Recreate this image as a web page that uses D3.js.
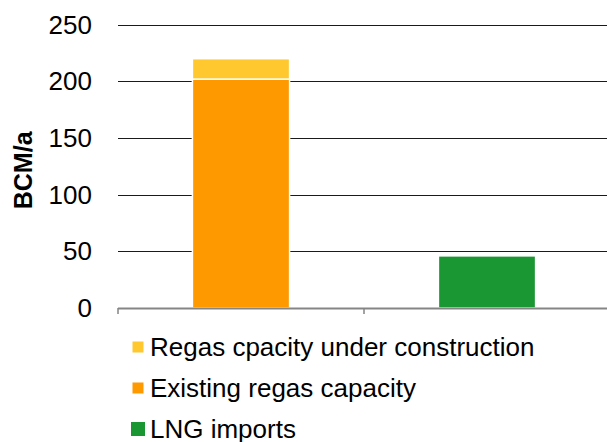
<!DOCTYPE html>
<html lang="en">
<head>
  <meta charset="UTF-8">
  <title>Regas capacity vs LNG imports</title>
  <script src="https://d3js.org/d3.v7.min.js"></script>
  <style>
    html, body { margin: 0; padding: 0; background: #ffffff; overflow: hidden; }
    svg { display: block; font-family: 'Liberation Sans', Arial, Helvetica, sans-serif; }
    .tick-label { font-size: 26px; fill: #000000; }
    .axis-title { font-size: 25px; font-weight: 700; fill: #000000; }
    .legend text { font-size: 26px; fill: #000000; }
  </style>
</head>
<body>
  <svg class="chart" width="607" height="442"></svg>

  <script>
    // categories and values (BCM/a)
    const categories = ["Regas capacity", "LNG imports"];
    const existingRegas = [202, 0];
    const underConstruction = [18, 0];
    const lngImports = [0, 46];
    const yTicks = [0, 50, 100, 150, 200, 250];

    const seriesNames = ["Regas cpacity under construction", "Existing regas capacity", "LNG imports"];
    const seriesColors = ["#ffc82f", "#ff9900", "#1a9632"];

    const svg = d3.select(".chart");
    const m = {left: 118, right: 610, top: 24.7, bottom: 308};

    const x = d3.scaleBand().domain(categories).range([m.left, m.right]).padding(0);
    const y = d3.scaleLinear().domain([0, 250]).range([m.bottom, m.top]);
    const barW = x.bandwidth() * 0.395;

    // gridlines
    svg.append("g")
      .selectAll("line")
      .data(yTicks.filter(d => d > 0))
      .join("line")
      .attr("x1", m.left).attr("x2", 607)
      .attr("y1", d => Math.round(y(d)) + 0.5).attr("y2", d => Math.round(y(d)) + 0.5)
      .attr("stroke", "#1a1a1a").attr("stroke-width", 1.2);

    // tick labels
    svg.append("g")
      .selectAll("text")
      .data(yTicks)
      .join("text")
      .attr("class", "tick-label")
      .attr("x", 92)
      .attr("y", d => y(d) + 9)
      .attr("text-anchor", "end")
      .text(d => d);

    // stacked bars
    const rows = categories.map((c, i) => ({
      cat: c,
      segs: [
        {name: seriesNames[1], v0: 0, v1: existingRegas[i], color: seriesColors[1]},
        {name: seriesNames[0], v0: existingRegas[i], v1: existingRegas[i] + underConstruction[i], color: seriesColors[0]},
        {name: seriesNames[2], v0: 0, v1: lngImports[i], color: seriesColors[2]}
      ].filter(s => s.v1 > s.v0)
    }));

    rows.forEach(r => {
      const bx = x(r.cat) + (x.bandwidth() - barW) / 2;
      svg.append("g")
        .selectAll("rect")
        .data(r.segs)
        .join("rect")
        .attr("x", bx)
        .attr("width", barW)
        .attr("y", d => y(d.v1))
        .attr("height", d => y(d.v0) - y(d.v1))
        .attr("fill", d => d.color)
        .attr("stroke", "#ffffff")
        .attr("stroke-width", 1.5);
    });

    // baseline and category ticks
    svg.append("line")
      .attr("x1", m.left).attr("x2", 607)
      .attr("y1", m.bottom + 0.5).attr("y2", m.bottom + 0.5)
      .attr("stroke", "#858585").attr("stroke-width", 2);
    const bounds = categories.map(c => x(c)).concat([m.right]);
    svg.append("g")
      .selectAll("line")
      .data(bounds)
      .join("line")
      .attr("x1", d => d).attr("x2", d => d)
      .attr("y1", m.bottom).attr("y2", m.bottom + 6)
      .attr("stroke", "#858585").attr("stroke-width", 1.5);

    // y axis title
    svg.append("text")
      .attr("class", "axis-title")
      .attr("transform", `translate(32,${(m.top + m.bottom) / 2 + 4}) rotate(-90)`)
      .attr("text-anchor", "middle")
      .text("BCM/a");

    // legend
    const legend = svg.append("g").attr("class", "legend");
    const items = [
      {name: seriesNames[0], color: seriesColors[0], size: 11, y: 356},
      {name: seriesNames[1], color: seriesColors[1], size: 11, y: 397},
      {name: seriesNames[2], color: seriesColors[2], size: 14, y: 438}
    ];
    items.forEach(it => {
      legend.append("rect")
        .attr("x", 138 - it.size / 2).attr("y", it.y - 8 - it.size / 2 - 1)
        .attr("width", it.size).attr("height", it.size)
        .attr("fill", it.color);
      legend.append("text")
        .attr("x", 150).attr("y", it.y)
        .text(it.name);
    });
  </script>
</body>
</html>
